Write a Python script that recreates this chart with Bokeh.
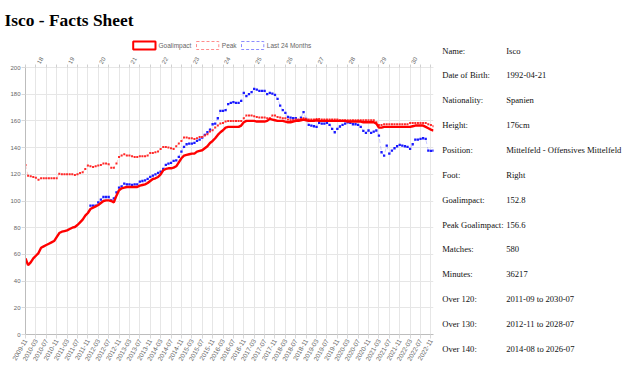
import math
import pandas as pd
from bokeh.plotting import figure
from bokeh.models import Range1d, LinearAxis, FixedTicker
from bokeh.layouts import row, column
from bokeh.core.properties import value
from bokeh.embed import file_html
from bokeh.resources import INLINE

# ---------------- data ----------------
months = [p.strftime("%Y-%m") for p in pd.period_range("2009-11", "2022-12", freq="M")]

goalimpact = [
    57, 52, 54, 57, 59, 61, 65, 66, 67, 68,
    69, 70, 73, 76, 77, 77.5, 78, 79, 80, 80.5,
    82, 84, 86, 89, 91, 94, 95, 96, 97, 98.5,
    100, 100.5, 100.5, 100, 99, 104, 108, 109.5, 110, 110.5,
    110.5, 110.5, 110.5, 110.5, 111.5, 112, 112.5, 113.5, 115, 116.5,
    117, 118, 120, 123, 124, 124.5, 124.5, 125, 126, 129,
    132, 134, 134.5, 135, 135.5, 135.5, 137, 137.5, 138, 139.5,
    141, 143.5, 145, 147, 149.5, 151.5, 153, 155, 155.5, 155.5,
    155.5, 155.5, 155.5, 156.5, 159, 160, 160, 160, 160, 159.5,
    159.5, 159.5, 159.5, 160, 161.5, 161, 160.5, 160, 160, 160,
    159.5, 159, 159, 159.5, 160, 160, 160.5, 161, 160.5, 160,
    160, 160, 160.5, 160, 160, 160, 160, 160, 160, 160,
    160, 160, 160, 160, 159.5, 159.5, 159.5, 159.5, 159.5, 159.5,
    159, 159, 159, 159, 159, 158, 155, 155, 155.5, 155.5,
    155.5, 155.5, 155.5, 155.5, 155.5, 155.5, 155.5, 155.5, 155.5, 156,
    156.5, 156.5, 156.5, 156.5, 155.5, 154.5, 153.5, 152.8,
]

peak = [
    127, 119, 118.5, 118, 117.5, 116, 117, 117, 117, 117,
    117, 117, 117, 120.5, 120, 120, 120, 120, 120, 119.5,
    120, 121, 121.5, 124, 126.5, 126, 125.5, 126, 126.5, 127,
    128, 128, 127.5, 125, 125, 128, 133, 134, 135, 134,
    134, 133.5, 133, 133, 133.5, 133.5, 133.5, 134, 136, 136,
    136.5, 137, 139, 140.5, 140.5, 140, 139.5, 139, 141, 143,
    145, 147.5, 147.5, 147, 147, 146.5, 147, 148, 148, 149,
    150, 152, 153, 155, 156.5, 158, 158.5, 159.5, 160, 160,
    160, 160, 160, 160, 162, 164, 164, 164, 163.5, 163,
    162.5, 162.5, 162.5, 162, 162, 164, 164, 163, 162.5, 162,
    162, 161, 160.5, 160.5, 161, 161, 161.5, 162, 161.5, 161,
    161, 161, 161.5, 161.5, 161, 161, 161, 161, 161, 161,
    161, 160.5, 160.5, 160.5, 160.5, 160.5, 160.5, 160.5, 160.5, 160.5,
    160.5, 160.5, 160.5, 160.5, 160.5, 159, 157, 157, 157.5, 157.5,
    157.5, 157.5, 157.5, 157.5, 157.5, 157.5, 157.5, 157.5, 158.5, 158.5,
    158.5, 158.5, 158.5, 158.5, 158.5, 157.5, 157, 156,
]

last24 = [float("nan")] * 25 + [
    96.5, 96.5, 96.5, 99, 101,
    103, 103, 103, 100.5, 102, 106.5, 110, 111, 113, 112.5,
    112.5, 112, 112.5, 112.5, 114.5, 115, 115.5, 116.5, 118, 119,
    120, 121, 122, 124, 127, 128, 128.5, 130, 130.5, 133,
    137, 140.5, 142.5, 143, 143, 143.5, 145, 146, 147.5, 149.5,
    151.5, 153.5, 157.5, 158, 162, 167.5, 167.5, 168, 172.5, 173.5,
    174, 173.5, 173.5, 175, 181, 178.5, 180, 181.5, 184, 183.5,
    182.5, 182.5, 182.5, 180, 181, 180.5, 179.5, 176.5, 171.5, 168,
    166, 163, 162.5, 162, 162, 160.5, 162.5, 166.5, 161.5, 157,
    156.5, 156, 155.5, 158.5, 158, 158, 158.5, 157, 154, 151.5,
    154, 155.8, 157, 158, 159, 158.5, 157.5, 157.5, 157, 155.5,
    152.5, 151, 152.8, 151, 152, 152.8, 149, 136.5, 134, 141.5,
    135.5, 137.8, 139.5, 141, 142, 141.5, 141, 140.5, 139, 142.5,
    146, 146, 146.5, 147, 146.5, 137.8, 137.5, 137.8,
]

ages = list(range(18, 31))
age_months = ["%d-04" % (2010 + k) for k in range(len(ages))]

series_names = ["Goalimpact", "Peak", "Last 24 Months"]

info_labels = ["Name:", "Date of Birth:", "Nationality:", "Height:", "Position:", "Foot:",
               "Goalimpact:", "Peak Goalimpact:", "Matches:", "Minutes:",
               "Over 120:", "Over 130:", "Over 140:"]
info_values = ["Isco", "1992-04-21", "Spanien", "176cm", "Mittelfeld - Offensives Mittelfeld",
               "Right", "152.8", "156.6", "580", "36217",
               "2011-09 to 2030-07", "2012-11 to 2028-07", "2014-08 to 2026-07"]

FONT = "Liberation Sans"
SERIF = "Liberation Serif"
GRID = "#e6e6e6"
TOTAL_W, TOTAL_H = 628, 366
W1 = 437
W2 = TOTAL_W - W1
HH = 52  # header height

# ---------------- header (title + legend) ----------------
hdr = figure(width=W1, height=HH, x_range=Range1d(0, W1), y_range=Range1d(HH, 0),
             x_axis_type=None, y_axis_type=None, output_backend="svg", title=None,
             toolbar_location=None, min_border=0)
hdr.outline_line_color = None
hdr.grid.visible = False
hdr.text(x=[4], y=[19.3], text=["Isco - Facts Sheet"], text_baseline="alphabetic",
         text_font=value(SERIF), text_font_style="bold", text_font_size="17.4px",
         text_color="black")

box_left = [132.7, 196, 241]
box_w, box_top, box_bot = 22.3, 41, 49
lcolors = ["#ff0000", "#ff8c8c", "#8c8cff"]
lwidths = [2, 1, 1]
ldash = ["solid", "3 2", "3 2"]
for bl, c, lw, ld in zip(box_left, lcolors, lwidths, ldash):
    hdr.quad(left=[bl], right=[bl + box_w], top=[box_top], bottom=[box_bot],
             fill_color="white", line_color=c, line_width=lw, line_dash=ld)
hdr.text(x=[b + box_w + 3 for b in box_left], y=[(box_top + box_bot) / 2] * 3,
         text=series_names, text_baseline="middle", text_font=value(FONT),
         text_font_size="6.5px", text_color="#666666")

# ---------------- chart ----------------
x = list(range(len(months)))
grid_ticks = list(range(0, len(months), 4))
age_ticks = [months.index(m) for m in age_months]

p = figure(width=W1, height=TOTAL_H - HH, x_range=Range1d(0, len(months) - 1),
           y_range=Range1d(0, 200), output_backend="svg", toolbar_location=None, title=None,
           min_border_left=25, min_border_right=4, min_border_top=15, min_border_bottom=32)
p.outline_line_color = None

xa = p.xaxis[0]
xa.ticker = FixedTicker(ticks=grid_ticks)
xa.major_label_overrides = {i: months[i] for i in grid_ticks}
xa.major_label_orientation = math.pi / 3
ya = p.yaxis[0]
ya.ticker = FixedTicker(ticks=list(range(0, 201, 20)))

top = LinearAxis(ticker=FixedTicker(ticks=age_ticks, minor_ticks=grid_ticks),
                 major_label_overrides={t: str(a) for t, a in zip(age_ticks, ages)})
top.major_label_orientation = math.pi / 3
top.major_tick_out = 0
top.major_tick_in = 0
top.minor_tick_out = 3
top.minor_tick_in = 0
top.minor_tick_line_color = "#d0d0d0"
p.add_layout(top, "above")

for ax in (xa, ya, top):
    ax.major_label_text_font = FONT
    ax.major_label_text_font_size = "6px"
    ax.major_label_text_color = "#666666"
    ax.major_label_standoff = 1
xa.major_label_text_font_size = "6.5px"
for ax in (xa, ya):
    ax.major_tick_out = 4
    ax.major_tick_in = 0
    ax.major_tick_line_color = "#d9d9d9"
    ax.minor_tick_line_color = None
    ax.axis_line_color = "#bdbdbd"
top.axis_line_color = GRID

p.xgrid.grid_line_color = GRID
p.ygrid.grid_line_color = GRID

p.line(x, last24, line_color="#0000ff", line_alpha=0.2, line_width=1, line_dash="4 3")
p.scatter(x, last24, marker="square", size=2.3, color="#1a1aff", line_width=0)
p.line(x, peak, line_color="#ff0000", line_alpha=0.2, line_width=1, line_dash="4 3")
p.scatter(x, peak, marker="square", size=2.0, color="#ff2a2a", line_width=0)
p.line(x, goalimpact, line_color="#ff0000", line_width=2.4)

# ---------------- info table ----------------
t = figure(width=W2, height=TOTAL_H, x_range=Range1d(0, W2), y_range=Range1d(TOTAL_H, 0),
           x_axis_type=None, y_axis_type=None, output_backend="svg", toolbar_location=None,
           title=None, min_border=0)
t.outline_line_color = None
t.grid.visible = False
ys = [50 + 24.86 * k for k in range(len(info_labels))]
t.text(x=[441.7 - W1] * len(info_labels), y=ys, text=info_labels, text_baseline="middle",
       text_font=value(SERIF), text_font_size="8.6px", text_color="#111111")
t.text(x=[505.7 - W1] * len(info_values), y=ys, text=info_values, text_baseline="middle",
       text_font=value(SERIF), text_font_size="8.6px", text_color="#111111")

layout = row(column(hdr, column(p)), t)
open("out.html", "w").write(file_html(layout, INLINE))
